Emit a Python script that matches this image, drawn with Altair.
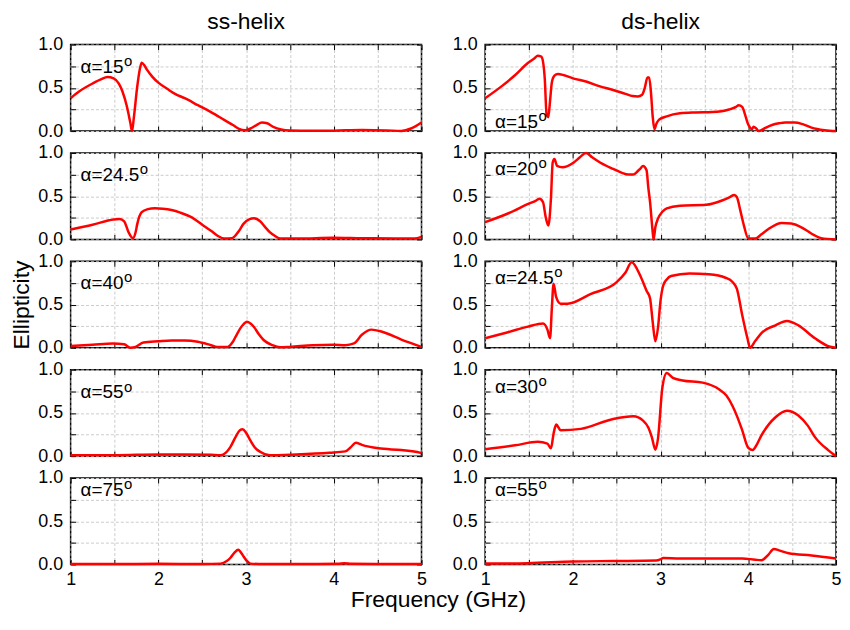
import altair as alt
import pandas as pd

# ---------------- data ----------------
ss15_f = [1.0, 1.1, 1.25, 1.35, 1.42, 1.49, 1.55, 1.59, 1.64, 1.68, 1.70, 1.72, 1.76, 1.79, 1.81, 1.84, 1.87, 1.93, 2.0, 2.1, 2.19, 2.3, 2.45, 2.6, 2.75, 2.85, 2.92, 2.99, 3.05, 3.12, 3.18, 3.24, 3.31, 3.4, 3.5, 3.76, 4.0, 4.32, 4.6, 4.77, 4.88, 5.0]
ss15_e = [0.38, 0.46, 0.55, 0.60, 0.625, 0.61, 0.55, 0.46, 0.29, 0.10, 0.0, 0.15, 0.52, 0.72, 0.79, 0.76, 0.71, 0.63, 0.56, 0.49, 0.43, 0.38, 0.30, 0.22, 0.13, 0.07, 0.025, 0.01, 0.03, 0.07, 0.10, 0.09, 0.05, 0.02, 0.008, 0.003, 0.005, 0.012, 0.008, 0.002, 0.03, 0.10]

ds15_f = [1.0, 1.19, 1.34, 1.49, 1.56, 1.60, 1.64, 1.66, 1.68, 1.70, 1.72, 1.74, 1.76, 1.79, 1.83, 1.90, 2.0, 2.16, 2.3, 2.46, 2.6, 2.68, 2.74, 2.79, 2.82, 2.85, 2.87, 2.89, 2.91, 2.93, 2.95, 2.98, 3.07, 3.22, 3.4, 3.59, 3.78, 3.86, 3.89, 3.93, 3.96, 3.99, 4.02, 4.04, 4.06, 4.09, 4.12, 4.2, 4.27, 4.35, 4.42, 4.53, 4.62, 4.72, 4.87, 5.0]
ds15_e = [0.38, 0.52, 0.645, 0.79, 0.84, 0.87, 0.86, 0.80, 0.60, 0.20, 0.16, 0.35, 0.56, 0.64, 0.66, 0.645, 0.61, 0.57, 0.52, 0.475, 0.43, 0.405, 0.40, 0.42, 0.50, 0.62, 0.62, 0.45, 0.17, 0.02, 0.08, 0.13, 0.17, 0.205, 0.215, 0.22, 0.25, 0.28, 0.30, 0.28, 0.20, 0.10, 0.04, 0.02, 0.05, 0.03, 0.0, 0.04, 0.07, 0.09, 0.10, 0.10, 0.08, 0.04, 0.01, 0.0]

ss24_f = [1.0, 1.25, 1.49, 1.56, 1.61, 1.66, 1.71, 1.74, 1.76, 1.81, 1.88, 1.96, 2.05, 2.15, 2.25, 2.37, 2.5, 2.6, 2.68, 2.75, 2.84, 2.92, 2.97, 3.04, 3.09, 3.16, 3.22, 3.27, 3.33, 3.39, 3.6, 3.99, 4.32, 4.70, 4.92, 5.0]
ss24_e = [0.115, 0.17, 0.23, 0.235, 0.21, 0.085, 0.015, 0.08, 0.18, 0.315, 0.35, 0.36, 0.355, 0.34, 0.31, 0.26, 0.17, 0.10, 0.04, 0.01, 0.015, 0.10, 0.18, 0.235, 0.245, 0.21, 0.14, 0.085, 0.04, 0.01, 0.01, 0.02, 0.015, 0.012, 0.01, 0.03]

ds20_f = [1.0, 1.26, 1.49, 1.58, 1.62, 1.66, 1.69, 1.72, 1.75, 1.77, 1.79, 1.82, 1.88, 2.01, 2.08, 2.15, 2.22, 2.31, 2.46, 2.56, 2.63, 2.69, 2.73, 2.77, 2.80, 2.84, 2.86, 2.88, 2.91, 2.92, 2.94, 2.97, 3.02, 3.07, 3.22, 3.52, 3.70, 3.79, 3.84, 3.87, 3.91, 3.95, 4.00, 4.08, 4.15, 4.23, 4.38, 4.49, 4.64, 4.75, 4.83, 5.0]
ds20_e = [0.20, 0.30, 0.41, 0.45, 0.47, 0.43, 0.26, 0.16, 0.47, 0.89, 0.93, 0.85, 0.835, 0.89, 0.95, 1.0, 0.95, 0.89, 0.815, 0.77, 0.75, 0.75, 0.78, 0.82, 0.85, 0.80, 0.60, 0.43, 0.085, 0.0, 0.14, 0.24, 0.32, 0.36, 0.39, 0.40, 0.45, 0.49, 0.515, 0.49, 0.33, 0.16, 0.01, 0.01, 0.06, 0.12, 0.19, 0.185, 0.12, 0.05, 0.015, 0.0]

ss40_f = [1.0, 1.25, 1.48, 1.61, 1.68, 1.74, 1.83, 2.0, 2.15, 2.3, 2.45, 2.6, 2.67, 2.79, 2.85, 2.90, 2.96, 3.01, 3.05, 3.09, 3.15, 3.20, 3.3, 3.39, 3.5, 3.76, 4.0, 4.13, 4.23, 4.32, 4.43, 4.55, 4.77, 5.0]
ss40_e = [0.02, 0.035, 0.05, 0.04, 0.0, 0.01, 0.06, 0.075, 0.085, 0.085, 0.07, 0.03, 0.01, 0.01, 0.07, 0.165, 0.26, 0.30, 0.28, 0.24, 0.15, 0.09, 0.03, 0.005, 0.01, 0.03, 0.035, 0.03, 0.05, 0.15, 0.21, 0.185, 0.095, 0.01]

ds24_f = [1.0, 1.26, 1.49, 1.66, 1.71, 1.74, 1.76, 1.78, 1.81, 1.86, 1.94, 2.2, 2.5, 2.60, 2.67, 2.77, 2.84, 2.88, 2.91, 2.94, 2.97, 3.0, 3.03, 3.07, 3.12, 3.33, 3.55, 3.74, 3.82, 3.87, 3.93, 3.99, 4.02, 4.08, 4.15, 4.31, 4.44, 4.57, 4.76, 4.91, 5.0]
ds24_e = [0.11, 0.18, 0.245, 0.28, 0.21, 0.11, 0.45, 0.74, 0.585, 0.51, 0.51, 0.62, 0.76, 0.87, 0.99, 0.83, 0.66, 0.57, 0.30, 0.075, 0.23, 0.55, 0.72, 0.79, 0.83, 0.86, 0.85, 0.81, 0.76, 0.68, 0.38, 0.11, 0.0, 0.08, 0.17, 0.26, 0.31, 0.26, 0.11, 0.02, 0.0]

ss55_f = [1.0, 1.5, 2.0, 2.3, 2.6, 2.71, 2.77, 2.82, 2.88, 2.93, 2.96, 3.0, 3.05, 3.1, 3.16, 3.27, 3.57, 3.95, 4.13, 4.2, 4.25, 4.32, 4.51, 4.77, 4.98, 5.0]
ss55_e = [0.01, 0.01, 0.02, 0.02, 0.015, 0.01, 0.04, 0.105, 0.22, 0.30, 0.31, 0.27, 0.18, 0.10, 0.05, 0.01, 0.02, 0.04, 0.055, 0.11, 0.155, 0.13, 0.09, 0.07, 0.04, 0.03]

ds30_f = [1.0, 1.34, 1.60, 1.71, 1.75, 1.78, 1.81, 1.86, 2.09, 2.46, 2.69, 2.80, 2.86, 2.90, 2.94, 2.97, 3.02, 3.07, 3.14, 3.25, 3.48, 3.67, 3.75, 3.82, 3.88, 3.93, 4.00, 4.05, 4.10, 4.15, 4.31, 4.44, 4.57, 4.68, 4.76, 4.91, 5.0]
ds30_e = [0.08, 0.125, 0.165, 0.145, 0.09, 0.26, 0.365, 0.30, 0.315, 0.43, 0.46, 0.41, 0.33, 0.22, 0.075, 0.20, 0.79, 0.96, 0.905, 0.875, 0.85, 0.77, 0.70, 0.58, 0.44, 0.30, 0.095, 0.07, 0.14, 0.24, 0.45, 0.525, 0.47, 0.35, 0.22, 0.07, 0.0]

ss75_f = [1.0, 1.5, 2.0, 2.5, 2.71, 2.78, 2.82, 2.87, 2.91, 2.94, 2.97, 3.01, 3.05, 3.2, 3.6, 4.05, 4.12, 4.2, 4.6, 5.0]
ss75_e = [0.005, 0.005, 0.008, 0.005, 0.01, 0.04, 0.075, 0.14, 0.17, 0.14, 0.095, 0.04, 0.01, 0.005, 0.005, 0.008, 0.015, 0.008, 0.005, 0.005]

ds55_f = [1.0, 1.49, 2.01, 2.46, 2.95, 3.0, 3.03, 3.22, 3.6, 3.93, 4.08, 4.15, 4.23, 4.29, 4.36, 4.46, 4.72, 5.0]
ds55_e = [0.01, 0.015, 0.035, 0.04, 0.045, 0.06, 0.075, 0.07, 0.07, 0.07, 0.055, 0.05, 0.115, 0.18, 0.16, 0.13, 0.105, 0.07]

angles = ["15", "15", "24.5", "20", "40", "24.5", "55", "30", "75", "55"]
column_titles = ["ss-helix", "ds-helix"]
x_title = "Frequency (GHz)"
y_title = "Ellipticity"
x_ticks = [1, 1.5, 2, 2.5, 3, 3.5, 4, 4.5, 5]
y_ticks = [0, 0.25, 0.5, 0.75, 1]

# ---------------- styling ----------------
FONT = "Liberation Sans"
W, H = 353, 87
SPACE_X, SPACE_Y = 64, 22
RED = "#ff0000"
GRID = "#cccccc"
TICK = 5
BIG = 23
LBL = 19
SUP = 15
# approximate advance widths (em) of Liberation Sans glyphs, for placing the superscript
ADV = {"α": 0.58, "=": 0.584, ".": 0.278}


def text_width(s, size):
    return sum(ADV.get(c, 0.556) for c in s) * size


def panel(f, e, angle, label_y, title=None, ytitle=None, xlabels=False, xtitle=None):
    df = pd.DataFrame({"f": f, "e": e})
    xs = alt.Scale(domain=[1, 5], nice=False, zero=False)
    ys = alt.Scale(domain=[0, 1], nice=False, zero=False)
    base = alt.Chart(df)

    grid = base.mark_line(opacity=0).encode(
        x=alt.X("f:Q", scale=xs, axis=alt.Axis(
            orient="bottom", values=x_ticks, grid=True, gridDash=[3, 2],
            gridColor=GRID, gridWidth=1, ticks=False, labels=False,
            domain=False, title=None)),
        y=alt.Y("e:Q", scale=ys, axis=alt.Axis(
            orient="left", values=y_ticks, grid=True, gridDash=[3, 2],
            gridColor=GRID, gridWidth=1, ticks=False, labels=False,
            domain=False, title=None)),
    )

    yaxis_kw = dict(orient="left", values=y_ticks, offset=-TICK, tickSize=TICK,
                    tickColor="black", tickWidth=1, domain=False, grid=False,
                    labelExpr="datum.value % 0.5 == 0 ? format(datum.value, '.1f') : ''",
                    labelPadding=8, labelOverlap=False)
    if ytitle:
        yaxis_kw.update(title=ytitle, titlePadding=4)
    else:
        yaxis_kw.update(title=None)

    line = base.mark_line(color=RED, strokeWidth=2.5, interpolate="monotone").encode(
        x=alt.X("f:Q", scale=xs, axis=alt.Axis(
            orient="bottom", values=x_ticks, offset=-TICK, tickSize=TICK,
            tickColor="black", tickWidth=1, domain=False, grid=False,
            labels=xlabels,
            labelExpr="datum.value % 1 == 0 ? format(datum.value, 'd') : ''",
            labelFlush=False, labelOverlap=False, labelPadding=6, title=None)),
        y=alt.Y("e:Q", scale=ys, axis=alt.Axis(**yaxis_kw)),
    )

    mirror = base.mark_line(opacity=0).encode(
        x=alt.X("f:Q", scale=xs, axis=alt.Axis(
            orient="top", values=x_ticks, offset=-TICK, tickSize=TICK,
            tickColor="black", tickWidth=1, domain=False, grid=False,
            labels=False, title=None)),
        y=alt.Y("e:Q", scale=ys, axis=alt.Axis(
            orient="right", values=y_ticks, offset=-TICK, tickSize=TICK,
            tickColor="black", tickWidth=1, domain=False, grid=False,
            labels=False, title=None)),
    )

    layers = [grid, line, mirror]

    main = "α=" + angle
    txt = alt.Chart(pd.DataFrame({"label": [main]})).mark_text(
        align="left", baseline="alphabetic", font=FONT, fontSize=LBL, color="black"
    ).encode(x=alt.value(10), y=alt.value(label_y), text="label:N")
    sup = alt.Chart(pd.DataFrame({"s": ["o"]})).mark_text(
        align="left", baseline="alphabetic", font=FONT, fontSize=SUP, color="black"
    ).encode(x=alt.value(10 + text_width(main, LBL) + 0.5), y=alt.value(label_y - 7), text="s:N")
    layers += [txt, sup]

    if title:
        ttl = alt.Chart(pd.DataFrame({"t": [title]})).mark_text(
            align="center", baseline="alphabetic", font=FONT, fontSize=BIG, color="black"
        ).encode(x=alt.value(W / 2), y=alt.value(-16), text="t:N")
        layers.append(ttl)

    if xtitle:
        xt = alt.Chart(pd.DataFrame({"t": [xtitle]})).mark_text(
            align="center", baseline="alphabetic", font=FONT, fontSize=BIG, color="black"
        ).encode(x=alt.value(370), y=alt.value(H + 43), text="t:N")
        layers.append(xt)

    return alt.layer(*layers).resolve_axis(
        x="independent", y="independent").properties(width=W, height=H)


panels = [
    panel(ss15_f, ss15_e, angles[0], 29, title=column_titles[0]),
    panel(ds15_f, ds15_e, angles[1], 84, title=column_titles[1]),
    panel(ss24_f, ss24_e, angles[2], 28),
    panel(ds20_f, ds20_e, angles[3], 22),
    panel(ss40_f, ss40_e, angles[4], 28, ytitle=y_title),
    panel(ds24_f, ds24_e, angles[5], 23),
    panel(ss55_f, ss55_e, angles[6], 29),
    panel(ds30_f, ds30_e, angles[7], 23),
    panel(ss75_f, ss75_e, angles[8], 18, xlabels=True, xtitle=x_title),
    panel(ds55_f, ds55_e, angles[9], 18, xlabels=True),
]

chart = alt.concat(
    *panels, columns=2, spacing={"row": SPACE_Y, "column": SPACE_X}, bounds="flush",
).properties(
    padding={"left": 2, "top": 0, "right": 0, "bottom": 0}
).configure_view(
    stroke="black", strokeWidth=1.5
).configure_axis(
    labelFont=FONT, labelFontSize=18, labelColor="black",
    titleFont=FONT, titleFontSize=BIG, titleFontWeight="normal", titleColor="black"
)

chart.save("out.html", embed_options={"renderer": "svg", "actions": False})
